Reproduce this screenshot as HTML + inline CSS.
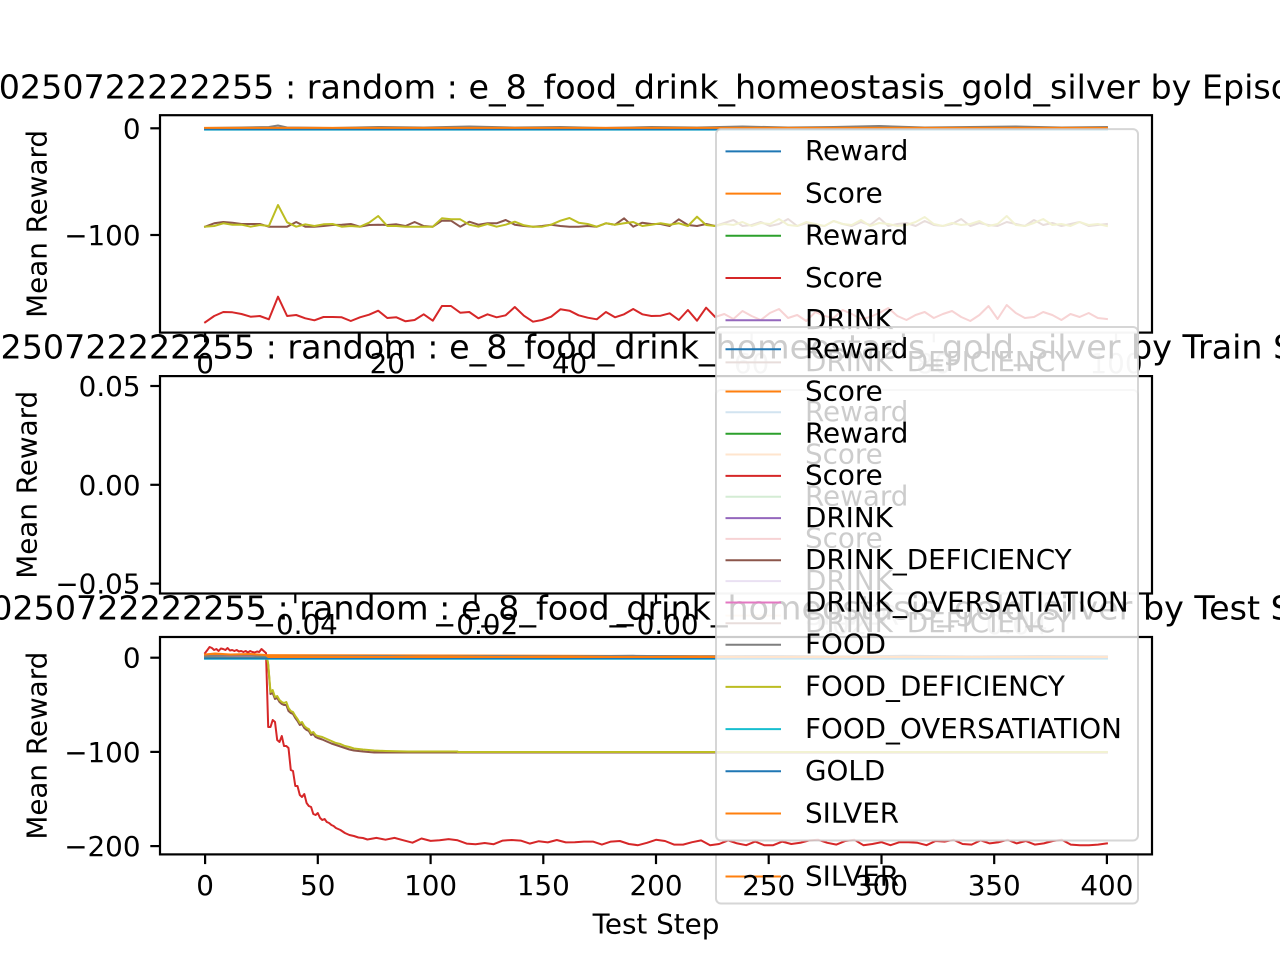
<!DOCTYPE html>
<html><head><meta charset="utf-8"><style>
html,body{margin:0;padding:0;background:#fff;}
svg{display:block;}
text{font-family:"DejaVu Sans","Liberation Sans",sans-serif;fill:#000;}
.tk{font-size:27.78px;}
.tt{font-size:33.33px;}
.lg{font-size:27.78px;}
.ln{fill:none;stroke-width:2;stroke-linejoin:round;stroke-linecap:square;}
.sp{fill:none;stroke:#000;stroke-width:2.2;}
.tm{stroke:#000;stroke-width:2.2;}
.fr{fill:#fff;fill-opacity:0.8;stroke:#cccccc;stroke-opacity:0.8;stroke-width:2;}
.hd{stroke-width:2;}
</style></head><body>
<svg width="1280" height="960" viewBox="0 0 1280 960" xmlns="http://www.w3.org/2000/svg">
<rect x="0" y="0" width="1280" height="960" fill="#fff"/>

<!-- ================= AX1 ================= -->
<rect x="160" y="115.2" width="992" height="217.4" fill="#fff"/>
<polyline class="ln" stroke="#1f77b4" points="205.1,129 1106.9,129"/>
<polyline class="ln" stroke="#ff7f0e" points="205.1,128.3 1106.9,128.3"/>
<polyline class="ln" stroke="#d62728" points="205.1,322.3 214.2,316 223.3,312 232.4,312.3 241.5,314 250.6,316.7 259.8,316 268.9,319.3 278,296.7 287.1,316 296.2,315 305.3,318.3 314.4,320.3 323.5,317 332.6,317 341.7,317.3 350.8,321 360,317.3 369.1,314.7 378.2,310.7 387.3,318 396.4,317.3 405.5,321.3 414.6,320 423.7,314.3 432.8,320.7 441.9,306 451,306 460.2,312.7 469.3,312 478.4,318.3 487.5,314.3 496.6,317.3 505.7,315.3 514.8,307 523.9,315.7 533,321.7 542.1,320 551.2,316.7 560.4,309.3 569.5,310.7 578.6,315.3 587.7,317.7 596.8,319.3 605.9,312 615,317.3 624.1,314.3 633.2,309 642.3,314.3 651.4,316 660.6,315.7 669.7,313.3 678.8,320 687.9,310 697,320.7 706.1,307.7 715.2,317 724.3,314 733.4,319 742.5,311 751.6,316 760.8,320 769.9,313 779,309 788.1,318 797.2,315 806.3,321 815.4,312 824.5,316 833.6,318 842.7,310 851.8,314 861,319 870.1,317 879.2,313 888.3,308 897.4,316 906.5,320 915.6,315 924.7,312 933.8,318 942.9,314 952,311 961.2,317 970.3,321 979.4,315 988.5,306 997.6,319 1006.7,305 1015.8,313 1024.9,318 1034,317 1043.2,312 1052.3,315 1061.4,320 1070.5,314 1079.6,317 1088.7,313 1097.8,318 1106.9,319"/>
<polyline class="ln" stroke="#9467bd" points="205.1,128.5 287.1,127.8 378.2,128.4 469.3,127.6 560.4,128.3 651.4,127.7 742.5,128.2 833.6,127.5 924.7,128.3 1015.8,127.6 1106.9,128.2"/>
<polyline class="ln" stroke="#8c564b" points="205.1,226.7 214.2,223.3 223.3,222 232.4,222.7 241.5,224 250.6,224 259.8,224 268.9,226.7 278,226.7 287.1,226.7 296.2,222 305.3,226.7 314.4,226.7 323.5,226 332.6,225 341.7,224.7 350.8,224 360,226.7 369.1,225 378.2,224.7 387.3,225 396.4,224.3 405.5,226 414.6,222 423.7,226 432.8,226.7 441.9,220.7 451,220.7 460.2,226.7 469.3,221.7 478.4,224.7 487.5,223.3 496.6,223.3 505.7,220 514.8,224.7 523.9,226 533,226.7 542.1,226 551.2,224.7 560.4,226 569.5,226.7 578.6,226.7 587.7,226 596.8,226.7 605.9,223.3 615,224.7 624.1,218.3 633.2,226.7 642.3,222.7 651.4,224 660.6,224 669.7,226 678.8,219.3 687.9,225 697,226 706.1,224 715.2,226 724.3,223 733.4,220 742.5,226 751.6,225 760.8,222 769.9,226 779,224 788.1,219 797.2,226 806.3,223 815.4,225 824.5,226 833.6,221 842.7,224 851.8,226 861,222 870.1,225 879.2,218 888.3,226 897.4,224 906.5,223 915.6,226 924.7,221 933.8,225 942.9,226 952,224 961.2,219 970.3,226 979.4,223 988.5,225 997.6,226 1006.7,222 1015.8,224 1024.9,226 1034,220 1043.2,225 1052.3,223 1061.4,226 1070.5,224 1079.6,222 1088.7,226 1097.8,225 1106.9,224"/>
<polyline class="ln" stroke="#e377c2" points="205.1,128.8 1106.9,128.8"/>
<polyline class="ln" stroke="#7f7f7f" points="205.1,128 241.5,127.5 268.9,127 278,125.5 287.1,127.5 332.6,128 378.2,127 423.7,127.5 469.3,126.5 514.8,127.5 560.4,127 605.9,128 651.4,127 697,127.5 742.5,126.5 788.1,127.5 833.6,127 879.2,126 924.7,127.5 970.3,127 1015.8,126.5 1061.4,127.5 1106.9,127"/>
<polyline class="ln" stroke="#bcbd22" points="205.1,226.7 214.2,226 223.3,223.3 232.4,224.7 241.5,224.7 250.6,226.7 259.8,225 268.9,226 278,205 287.1,222.3 296.2,226.7 305.3,224.3 314.4,226 323.5,224.3 332.6,224 341.7,226.7 350.8,226 360,226.7 369.1,222.7 378.2,216 387.3,226 396.4,226 405.5,226.7 414.6,226.7 423.7,226.7 432.8,226.7 441.9,218.3 451,219.3 460.2,219.3 469.3,224.7 478.4,226.7 487.5,224 496.6,226.7 505.7,224.7 514.8,221.7 523.9,225.3 533,226.7 542.1,226.7 551.2,224.7 560.4,220.7 569.5,218 578.6,222.7 587.7,224 596.8,226.7 605.9,223.3 615,224.7 624.1,223.3 633.2,222 642.3,226 651.4,224.7 660.6,223.3 669.7,224.7 678.8,223.3 687.9,226 697,216.7 706.1,225 715.2,226 724.3,224 733.4,225 742.5,222 751.6,226 760.8,223 769.9,224 779,219 788.1,225 797.2,226 806.3,222 815.4,224 824.5,226 833.6,221 842.7,224 851.8,225 861,220 870.1,226 879.2,223 888.3,224 897.4,226 906.5,225 915.6,222 924.7,217 933.8,224 942.9,226 952,223 961.2,225 970.3,224 979.4,221 988.5,226 997.6,224 1006.7,216 1015.8,225 1024.9,226 1034,223 1043.2,219 1052.3,225 1061.4,224 1070.5,226 1079.6,222 1088.7,225 1097.8,224 1106.9,226"/>
<polyline class="ln" stroke="#17becf" points="205.1,129.6 1106.9,129.6"/>
<polyline class="ln" stroke="#1f77b4" points="205.1,129.2 1106.9,129.2"/>
<polyline class="ln" stroke="#ff7f0e" points="205.1,127.9 1106.9,127.9"/>
<rect class="sp" x="160" y="115.2" width="992" height="217.4"/>
<g class="tm">
<line x1="150.3" y1="128.3" x2="160" y2="128.3"/>
<line x1="150.3" y1="235" x2="160" y2="235"/>
<line x1="205.1" y1="332.6" x2="205.1" y2="342.3"/>
<line x1="387.3" y1="332.6" x2="387.3" y2="342.3"/>
<line x1="569.5" y1="332.6" x2="569.5" y2="342.3"/>
<line x1="751.6" y1="332.6" x2="751.6" y2="342.3"/>
<line x1="933.8" y1="332.6" x2="933.8" y2="342.3"/>
<line x1="1116" y1="332.6" x2="1116" y2="342.3"/>
</g>
<g class="tk" text-anchor="end">
<text x="140.5" y="138.3">0</text>
<text x="140.5" y="245">−100</text>
</g>
<g class="tk" text-anchor="middle">
<text x="205.1" y="373.2">0</text>
<text x="387.3" y="373.2">20</text>
<text x="569.5" y="373.2">40</text>
<text x="751.6" y="373.2">60</text>
<text x="933.8" y="373.2">80</text>
<text x="1116" y="373.2">100</text>
</g>
<text class="tt" x="-22.5" y="98.5">20250722222255 : random : e_8_food_drink_homeostasis_gold_silver by Episode</text>
<text class="tk" text-anchor="middle" transform="translate(46.5,223.9) rotate(-90)">Mean Reward</text>
<!-- legend A -->
<rect class="fr" x="716" y="129.1" width="422" height="513.5" rx="5"/>
<g class="hd">
<line x1="725.5" x2="781" y1="151.4" y2="151.4" stroke="#1f77b4"/>
<line x1="725.5" x2="781" y1="193.6" y2="193.6" stroke="#ff7f0e"/>
<line x1="725.5" x2="781" y1="235.8" y2="235.8" stroke="#2ca02c"/>
<line x1="725.5" x2="781" y1="278" y2="278" stroke="#d62728"/>
<line x1="725.5" x2="781" y1="320.2" y2="320.2" stroke="#9467bd"/>
<line x1="725.5" x2="781" y1="362.4" y2="362.4" stroke="#8c564b"/>
<line x1="725.5" x2="781" y1="404.6" y2="404.6" stroke="#e377c2"/>
<line x1="725.5" x2="781" y1="446.8" y2="446.8" stroke="#7f7f7f"/>
<line x1="725.5" x2="781" y1="489" y2="489" stroke="#bcbd22"/>
<line x1="725.5" x2="781" y1="531.2" y2="531.2" stroke="#17becf"/>
<line x1="725.5" x2="781" y1="573.4" y2="573.4" stroke="#1f77b4"/>
<line x1="725.5" x2="781" y1="615.6" y2="615.6" stroke="#ff7f0e"/>
</g>
<g class="lg">
<text x="805" y="160.2">Reward</text>
<text x="805" y="202.4">Score</text>
<text x="805" y="244.6">Reward</text>
<text x="805" y="286.8">Score</text>
<text x="805" y="329">DRINK</text>
<text x="805" y="371.2">DRINK_DEFICIENCY</text>
<text x="805" y="413.4">DRINK_OVERSATIATION</text>
<text x="805" y="455.6">FOOD</text>
<text x="805" y="497.8">FOOD_DEFICIENCY</text>
<text x="805" y="540">FOOD_OVERSATIATION</text>
<text x="805" y="582.2">GOLD</text>
<text x="805" y="624.4">SILVER</text>
</g>

<!-- ================= AX2 ================= -->
<rect x="160" y="376.1" width="992" height="217.4" fill="#fff"/>
<rect class="sp" x="160" y="376.1" width="992" height="217.4"/>
<g class="tm">
<line x1="150.3" y1="386" x2="160" y2="386"/>
<line x1="150.3" y1="484.8" x2="160" y2="484.8"/>
<line x1="150.3" y1="583.6" x2="160" y2="583.6"/>
<line x1="295.3" y1="593.5" x2="295.3" y2="603.2"/>
<line x1="475.6" y1="593.5" x2="475.6" y2="603.2"/>
<line x1="656" y1="593.5" x2="656" y2="603.2"/>
<line x1="836.4" y1="593.5" x2="836.4" y2="603.2"/>
<line x1="1016.7" y1="593.5" x2="1016.7" y2="603.2"/>
</g>
<g class="tk" text-anchor="end">
<text x="140.5" y="396">0.05</text>
<text x="140.5" y="494.8">0.00</text>
<text x="140.5" y="593.6">−0.05</text>
</g>
<g class="tk" text-anchor="middle">
<text x="295.3" y="634.1">−0.04</text>
<text x="475.6" y="634.1">−0.02</text>
<text x="656" y="634.1">−0.00</text>
<text x="836.4" y="634.1">0.02</text>
<text x="1016.7" y="634.1">0.04</text>
</g>
<text class="tt" x="-41.9" y="358.6">20250722222255 : random : e_8_food_drink_homeostasis_gold_silver by Train Step</text>
<text class="tk" text-anchor="middle" transform="translate(36.5,484.8) rotate(-90)">Mean Reward</text>
<!-- legend B -->
<rect class="fr" x="716" y="390" width="422" height="513.5" rx="5"/>
<g class="hd">
<line x1="725.5" x2="781" y1="412.3" y2="412.3" stroke="#1f77b4"/>
<line x1="725.5" x2="781" y1="454.5" y2="454.5" stroke="#ff7f0e"/>
<line x1="725.5" x2="781" y1="496.7" y2="496.7" stroke="#2ca02c"/>
<line x1="725.5" x2="781" y1="538.9" y2="538.9" stroke="#d62728"/>
<line x1="725.5" x2="781" y1="581.1" y2="581.1" stroke="#9467bd"/>
<line x1="725.5" x2="781" y1="623.3" y2="623.3" stroke="#8c564b"/>
<line x1="725.5" x2="781" y1="665.5" y2="665.5" stroke="#e377c2"/>
<line x1="725.5" x2="781" y1="707.7" y2="707.7" stroke="#7f7f7f"/>
<line x1="725.5" x2="781" y1="749.9" y2="749.9" stroke="#bcbd22"/>
<line x1="725.5" x2="781" y1="792.1" y2="792.1" stroke="#17becf"/>
<line x1="725.5" x2="781" y1="834.3" y2="834.3" stroke="#1f77b4"/>
<line x1="725.5" x2="781" y1="876.5" y2="876.5" stroke="#ff7f0e"/>
</g>
<g class="lg">
<text x="805" y="421.1">Reward</text>
<text x="805" y="463.3">Score</text>
<text x="805" y="505.5">Reward</text>
<text x="805" y="547.7">Score</text>
<text x="805" y="589.9">DRINK</text>
<text x="805" y="632.1">DRINK_DEFICIENCY</text>
<text x="805" y="674.3">DRINK_OVERSATIATION</text>
<text x="805" y="716.5">FOOD</text>
<text x="805" y="758.7">FOOD_DEFICIENCY</text>
<text x="805" y="800.9">FOOD_OVERSATIATION</text>
<text x="805" y="843.1">GOLD</text>
<text x="805" y="885.3">SILVER</text>
</g>

<!-- ================= AX3 ================= -->
<rect x="160" y="637" width="992" height="217.4" fill="#fff"/>
<polyline class="ln" stroke="#1f77b4" points="205.1,658 220,656.5 227,655.5 235,657.5 268.2,658 1106.9,658"/>
<polyline class="ln" stroke="#ff7f0e" points="205.1,655 1106.9,657"/>
<polyline class="ln" stroke="#d62728" points="205.1,653 207.4,650 209.6,647 211.9,648 214.1,650 216.4,649 218.6,651 220.9,648.5 223.1,649 225.4,650 227.6,648 229.9,650.5 232.2,650 234.4,651 236.7,650 238.9,651.5 241.2,651 243.4,652 245.7,651 247.9,652.5 250.2,651 252.4,652 254.7,652.5 257,651.5 259.2,652 261.5,649 263.7,651 266,653 268.2,727 270.5,727 272.7,720 275,722 277.2,740 279.5,742 281.8,736 284,746 286.3,746 288.5,748 290.8,770 293,771 295.3,786 297.5,786 299.8,795 302,797 304.3,794 306.6,803 308.8,806 311.1,807 313.3,814 315.6,815 317.8,813 320.1,818 322.3,820 324.6,819 326.8,822 329.1,823 331.4,825 333.6,826 335.9,828 340.4,830 344.9,833 349.4,835 353.9,836 358.4,837.5 362.9,838 367.4,839.5 376.4,837.9 385.5,839.7 394.5,837.9 403.5,840.3 412.5,842.7 421.5,838.5 430.6,840.9 439.6,840.3 448.6,839.1 457.6,840.3 466.6,843.6 475.6,844.2 484.7,843 493.7,844.2 502.7,840.6 511.7,840 520.7,840.6 529.7,843.6 538.8,841.2 547.8,842.4 556.8,840 565.8,842.4 574.8,842.2 583.9,841.6 592.9,841.6 601.9,844.6 610.9,841.6 619.9,841 628.9,844 638,845.2 647,842.8 656,839.8 665,841 674,844.6 683.1,844.6 692.1,842.2 701.1,840.4 710.1,845.2 719.1,844 728.1,840.4 737.2,843.4 746.2,845.2 755.2,841.6 764.2,845.2 773.2,845.2 782.3,841.6 791.3,844 800.3,842.8 809.3,840.4 818.3,839.8 827.3,842.8 836.4,844.6 845.4,841 854.4,839.8 863.4,845.2 872.4,844 881.5,842.2 890.5,845.2 899.5,842.2 908.5,842.2 917.5,842.8 926.5,845.2 935.6,841 944.6,841.6 953.6,839.8 962.6,844 971.6,844.6 980.7,840.4 989.7,843.4 998.7,842.2 1007.7,839.8 1016.7,843.4 1025.7,841 1034.8,844.6 1043.8,843.4 1052.8,841 1061.8,839.8 1070.8,844.6 1079.9,845.2 1088.9,845.2 1097.9,844.6 1106.9,843.4"/>
<polyline class="ln" stroke="#9467bd" points="205.1,657 240,656 268.2,657.3 400,656.6 600,657.2 800,656.5 1000,657.1 1106.9,656.8"/>
<polyline class="ln" stroke="#8c564b" points="205.1,658 267.1,658 268.2,665 270.5,694 272.7,693 275,699 277.2,698 279.5,702 281.8,704 284,705 286.3,705 288.5,711 290.8,713 293,714 295.3,718 297.5,721 299.8,725 302,724 304.3,728 306.6,730 308.8,731 311.1,735 313.3,734 315.6,737 317.8,738 322.3,739.5 326.8,741.5 331.4,743.5 335.9,745 340.4,746.5 344.9,748 349.4,749.5 353.9,750.5 362.9,751.5 374.2,752.5 1106.9,752.5"/>
<polyline class="ln" stroke="#e377c2" points="205.1,657.6 1106.9,657.6"/>
<polyline class="ln" stroke="#7f7f7f" points="205.1,656 250.2,655.5 268.2,657 317.8,656.5 385.5,656 430.6,656.8 498,656 565.8,656.5 633,655.8 700,656.5 768.7,656 836,656.6 904,655.8 972,656.4 1040,656 1106.9,656.4"/>
<polyline class="ln" stroke="#bcbd22" points="205.1,658 267.1,658 268.2,664 270.5,692 272.7,690 275,697 277.2,696 279.5,700 281.8,702 284,703 286.3,702 288.5,708 290.8,711 293,712 295.3,716 297.5,719 299.8,723 302,722 304.3,726 306.6,728 308.8,729 311.1,733 313.3,732 315.6,735 317.8,736 322.3,737 326.8,739 331.4,741 335.9,743 340.4,744 344.9,746 349.4,747 353.9,748.5 362.9,749.5 374.2,750.5 385.5,751 408,751.5 457.6,751.5 457.6,752 1106.9,752"/>
<polyline class="ln" stroke="#17becf" points="205.1,658.8 1106.9,658.8"/>
<polyline class="ln" stroke="#1f77b4" points="205.1,658.2 1106.9,658.2"/>
<polyline class="ln" stroke="#ff7f0e" points="205.1,654.5 215,653.5 230,654.5 250,654 266,655 268.2,657 1106.9,657"/>
<rect class="sp" x="160" y="637" width="992" height="217.4"/>
<g class="tm">
<line x1="150.3" y1="657.7" x2="160" y2="657.7"/>
<line x1="150.3" y1="751.9" x2="160" y2="751.9"/>
<line x1="150.3" y1="846.1" x2="160" y2="846.1"/>
<line x1="205.1" y1="854.4" x2="205.1" y2="864.1"/>
<line x1="317.8" y1="854.4" x2="317.8" y2="864.1"/>
<line x1="430.6" y1="854.4" x2="430.6" y2="864.1"/>
<line x1="543.3" y1="854.4" x2="543.3" y2="864.1"/>
<line x1="656" y1="854.4" x2="656" y2="864.1"/>
<line x1="768.7" y1="854.4" x2="768.7" y2="864.1"/>
<line x1="881.5" y1="854.4" x2="881.5" y2="864.1"/>
<line x1="994.2" y1="854.4" x2="994.2" y2="864.1"/>
<line x1="1106.9" y1="854.4" x2="1106.9" y2="864.1"/>
</g>
<g class="tk" text-anchor="end">
<text x="140.5" y="667.7">0</text>
<text x="140.5" y="761.9">−100</text>
<text x="140.5" y="856.1">−200</text>
</g>
<g class="tk" text-anchor="middle">
<text x="205.1" y="895">0</text>
<text x="317.8" y="895">50</text>
<text x="430.6" y="895">100</text>
<text x="543.3" y="895">150</text>
<text x="656" y="895">200</text>
<text x="768.7" y="895">250</text>
<text x="881.5" y="895">300</text>
<text x="994.2" y="895">350</text>
<text x="1106.9" y="895">400</text>
</g>
<text class="tk" text-anchor="middle" x="656" y="933.3">Test Step</text>
<text class="tt" x="-30" y="619.5">20250722222255 : random : e_8_food_drink_homeostasis_gold_silver by Test Step</text>
<text class="tk" text-anchor="middle" transform="translate(46.5,745.7) rotate(-90)">Mean Reward</text>
<!-- legend C -->
<rect class="fr" x="716" y="327" width="422" height="513.5" rx="5"/>
<g class="hd">
<line x1="725.5" x2="781" y1="349.3" y2="349.3" stroke="#1f77b4"/>
<line x1="725.5" x2="781" y1="391.5" y2="391.5" stroke="#ff7f0e"/>
<line x1="725.5" x2="781" y1="433.7" y2="433.7" stroke="#2ca02c"/>
<line x1="725.5" x2="781" y1="475.9" y2="475.9" stroke="#d62728"/>
<line x1="725.5" x2="781" y1="518.1" y2="518.1" stroke="#9467bd"/>
<line x1="725.5" x2="781" y1="560.3" y2="560.3" stroke="#8c564b"/>
<line x1="725.5" x2="781" y1="602.5" y2="602.5" stroke="#e377c2"/>
<line x1="725.5" x2="781" y1="644.7" y2="644.7" stroke="#7f7f7f"/>
<line x1="725.5" x2="781" y1="686.9" y2="686.9" stroke="#bcbd22"/>
<line x1="725.5" x2="781" y1="729.1" y2="729.1" stroke="#17becf"/>
<line x1="725.5" x2="781" y1="771.3" y2="771.3" stroke="#1f77b4"/>
<line x1="725.5" x2="781" y1="813.5" y2="813.5" stroke="#ff7f0e"/>
</g>
<g class="lg">
<text x="805" y="358.1">Reward</text>
<text x="805" y="400.3">Score</text>
<text x="805" y="442.5">Reward</text>
<text x="805" y="484.7">Score</text>
<text x="805" y="526.9">DRINK</text>
<text x="805" y="569.1">DRINK_DEFICIENCY</text>
<text x="805" y="611.3">DRINK_OVERSATIATION</text>
<text x="805" y="653.5">FOOD</text>
<text x="805" y="695.7">FOOD_DEFICIENCY</text>
<text x="805" y="737.9">FOOD_OVERSATIATION</text>
<text x="805" y="780.1">GOLD</text>
<text x="805" y="822.3">SILVER</text>
</g>
</svg>
</body></html>
